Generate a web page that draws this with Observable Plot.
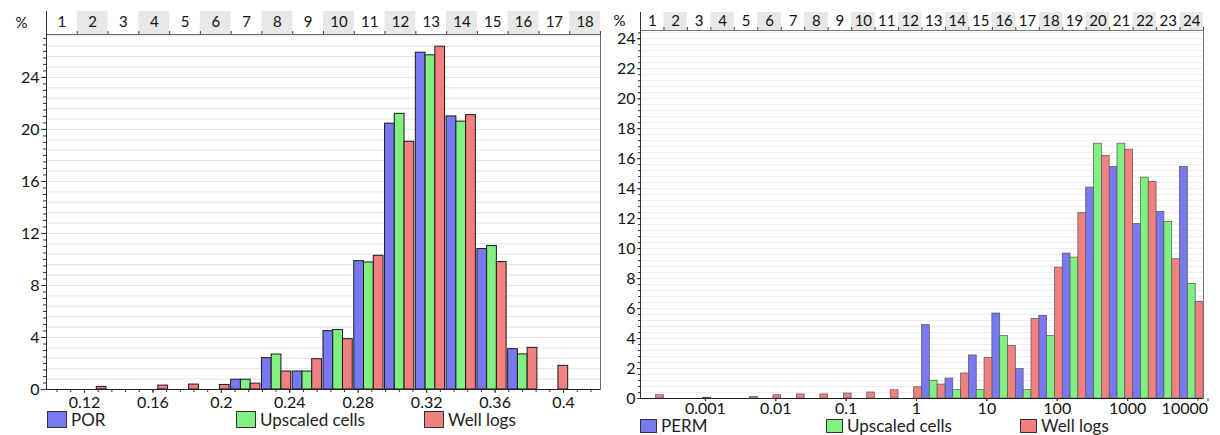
<!DOCTYPE html>
<html><head><meta charset="utf-8">
<script src="https://cdn.jsdelivr.net/npm/d3@7"></script>
<script src="https://cdn.jsdelivr.net/npm/@observablehq/plot@0.6"></script>
<style>
body{margin:0;background:#fff;font-family:Lato,"Open Sans",sans-serif;}
#wrap{display:flex;width:1220px;height:435px;overflow:hidden;}
.panel{position:relative;width:610px;height:435px;}
.panel svg{position:absolute;left:0;top:0;overflow:visible;}
.lg{position:absolute;display:flex;align-items:center;font-size:17px;line-height:17px;color:#222;white-space:nowrap;}
.sw{display:inline-block;border:1px solid #333;box-sizing:border-box;margin-right:4px;}
</style></head>
<body><div id="wrap"><div class="panel" id="left"></div><div class="panel" id="right"></div></div>
<script>
// ---------- data: porosity histogram (left) ----------
const seriesNames = ["POR", "Upscaled cells", "Well logs"];
const permSeriesNames = ["PERM", "Upscaled cells", "Well logs"];
const colors = ["#7878f2", "#80f080", "#f28080"];

const porBinLabels = d3.range(1, 19);
const porMin = 0.0978, porMax = 0.4216;
const porPOR      = [0,0,0,0,0,0,0.75,2.41,1.38,4.49,9.87,20.44,25.9,21.0,10.8,3.1,0,0];
const porUpscaled = [0,0,0,0,0,0,0.75,2.69,1.38,4.57,9.77,21.2,25.7,20.6,11.03,2.7,0,0];
const porWell     = [0,0.2,0,0.3,0.38,0.35,0.45,1.38,2.33,3.87,10.28,19.05,26.36,21.1,9.8,3.2,1.82,0];
const porTicks = [0.12, 0.16, 0.2, 0.24, 0.28, 0.32, 0.36, 0.4];
const porYTicks = [0, 4, 8, 12, 16, 20, 24];

// ---------- data: permeability histogram (right) ----------
const permBinLabels = d3.range(1, 25);
const permLogMin = -3.922, permLogMax = 4.078;
const permPERM     = [0,0,0,0,0,0,0,0,0,0,0,0,4.91,1.33,2.87,5.67,1.96,5.51,9.67,14.07,15.45,11.63,12.45,15.45];
const permUpscaled = [0,0,0,0,0,0,0,0,0,0,0,0,1.18,0.56,0.56,4.16,0.56,4.16,9.4,17.0,17.0,14.73,11.78,7.65];
const permWell     = [0.22,0,0.05,0,0.1,0.22,0.27,0.27,0.33,0.4,0.55,0.75,0.93,1.67,2.71,3.51,5.31,8.73,12.36,16.18,16.6,14.45,9.29,6.45];
const permTicks = [0.001, 0.01, 0.1, 1, 10, 100, 1000];
const permLastTick = [10000];
const permYTicks = d3.range(0, 25, 2);

const fontStyle = {fontFamily: "Lato, 'Open Sans', sans-serif", fontSize: "16px", color: "#111", background: "transparent"};

// ---------- left chart ----------
{
  const nb = porBinLabels.length, w = (porMax - porMin) / nb, yMax = 27.3;
  const rows = [];
  [porPOR, porUpscaled, porWell].forEach((vals, s) => vals.forEach((v, i) => {
    if (v > 0) rows.push({series: seriesNames[s], v,
      x1: porMin + w * (i + s * 0.95 / 3), x2: porMin + w * (i + (s + 1) * 0.95 / 3)});
  }));
  const bins = porBinLabels.map((k, i) => ({k, x1: porMin + w * i, x2: porMin + w * (i + 1), xc: porMin + w * (i + 0.5)}));
  const edges = d3.range(nb + 1).map(i => porMin + w * i);
  const chart = Plot.plot({
    width: 610, height: 412, marginLeft: 46, marginRight: 10, marginTop: 34, marginBottom: 23,
    style: fontStyle,
    x: {domain: [porMin, porMax], label: null},
    y: {domain: [0, yMax], label: null},
    color: {domain: seriesNames, range: colors},
    marks: [
      Plot.ruleY(d3.range(0.8, yMax, 0.8), {stroke: "#e4e4e4", strokeWidth: 1}),
      Plot.rect(bins.filter(d => d.k % 2 === 0), {x1: "x1", x2: "x2", y1: yMax, y2: yMax + 1.77, fill: "#e8e8e8"}),
      Plot.text(bins, {x: "xc", y: yMax, text: "k", dy: -12, fontSize: 15, fill: "#111"}),
      Plot.axisX(edges, {anchor: "top", tickSize: 4, text: null, label: null, stroke: "#444"}),
      Plot.rectY(rows, {x1: "x1", x2: "x2", y: "v", fill: "series", stroke: "#1a1a1a", strokeWidth: 1}),
      Plot.frame({stroke: "#666"}),
      Plot.ruleX([porMin], {y1: 0, y2: yMax + 1.77, stroke: "#333"}),
      Plot.ruleY([0], {stroke: "#222"}),
      Plot.axisY(d3.range(0, yMax, 0.5), {tickSize: 3, text: null, label: null, stroke: "#333"}),
      Plot.axisY(porYTicks, {tickSize: 5, tickPadding: 2, stroke: "#333", label: null, fontSize: 16}),
      Plot.axisX(d3.range(0.104, porMax, 0.008), {tickSize: 3, text: null, label: null, stroke: "#333"}),
      Plot.axisX(porTicks, {tickSize: 4, tickPadding: 3, stroke: "#333", label: null, tickFormat: d => String(+d.toFixed(2)), fontSize: 16}),
      Plot.text(["%"], {frameAnchor: "top-left", dx: -31, dy: -17, fontSize: 15, fill: "#111"})
    ]
  });
  document.getElementById("left").appendChild(chart);
}

// ---------- right chart ----------
{
  const nb = permBinLabels.length, bw = (permLogMax - permLogMin) / nb, yMax = 24.55;
  const rows = [];
  [permPERM, permUpscaled, permWell].forEach((vals, s) => vals.forEach((v, i) => {
    if (v > 0) rows.push({series: permSeriesNames[s], v,
      x1: Math.pow(10, permLogMin + bw * (i + s / 3)), x2: Math.pow(10, permLogMin + bw * (i + (s + 1) / 3))});
  }));
  const bins = permBinLabels.map((k, i) => ({k,
    x1: Math.pow(10, permLogMin + bw * i), x2: Math.pow(10, permLogMin + bw * (i + 1)), xc: Math.pow(10, permLogMin + bw * (i + 0.5))}));
  const edges = d3.range(nb + 1).map(i => Math.pow(10, permLogMin + bw * i));
  const lo = Math.pow(10, permLogMin), hi = Math.pow(10, permLogMax);
  const chart = Plot.plot({
    width: 610, height: 420, marginLeft: 30, marginRight: 17, marginTop: 30, marginBottom: 22,
    style: fontStyle,
    x: {type: "log", domain: [lo, hi], label: null},
    y: {domain: [0, yMax], label: null},
    color: {domain: permSeriesNames, range: colors},
    marks: [
      Plot.ruleY(d3.range(0.4, yMax, 0.4), {stroke: "#ececec", strokeWidth: 1}),
      Plot.rect(bins.filter(d => d.k % 2 === 0), {x1: "x1", x2: "x2", y1: yMax, y2: yMax + 1.2, fill: "#e8e8e8"}),
      Plot.text(bins, {x: "xc", y: yMax, text: "k", dy: -9, fontSize: 15, fill: "#111"}),
      Plot.axisX(edges, {anchor: "top", tickSize: 4, text: null, label: null, stroke: "#444"}),
      Plot.rectY(rows, {x1: "x1", x2: "x2", y: "v", fill: "series", stroke: "#555", strokeWidth: 0.7}),
      Plot.frame({stroke: "#777"}),
      Plot.ruleX([lo], {y1: 0, y2: yMax + 1.2, stroke: "#333"}),
      Plot.ruleY([0], {stroke: "#222"}),
      Plot.axisY(d3.range(0, yMax, 0.4), {tickSize: 2, text: null, label: null, stroke: "#333"}),
      Plot.axisY(permYTicks, {tickSize: 3, tickPadding: 2, stroke: "#333", label: null, fontSize: 16}),
      Plot.axisX([...permTicks, ...permLastTick], {tickSize: 3, text: null, label: null, stroke: "#333"}),
      Plot.axisX(permTicks, {tickSize: 3, tickPadding: 1, stroke: "#333", label: null, tickFormat: d => String(d), fontSize: 16}),
      Plot.axisX(permLastTick, {tickSize: 3, tickPadding: 1, stroke: "#333", label: null, tickFormat: d => String(d), fontSize: 16, textAnchor: "end", dx: 10}),
      Plot.text(["%"], {frameAnchor: "top-left", dx: -27, dy: -15, fontSize: 15, fill: "#111"})
    ]
  });
  document.getElementById("right").appendChild(chart);
}

// ---------- HTML legends ----------
function legend(panelId, names, items, top, sw) {
  const p = document.getElementById(panelId);
  names.forEach((n, i) => {
    const d = document.createElement("div");
    d.className = "lg";
    d.style.left = items[i] + "px";
    d.style.top = top + "px";
    d.innerHTML = `<span class="sw" style="width:${sw[0]}px;height:${sw[1]}px;background:${colors[i]}"></span>${n}`;
    p.appendChild(d);
  });
}
legend("left", seriesNames, [47, 236, 424], 411, [20, 17]);
legend("right", permSeriesNames, [30, 216, 410], 417, [17, 14]);
</script></body></html>
